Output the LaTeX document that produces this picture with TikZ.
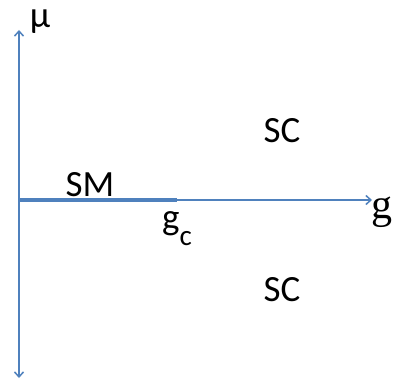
\documentclass[tikz,border=0pt]{standalone}
\usepackage{fontspec}
\setmainfont{Carlito}
\newfontfamily\seriffont{Liberation Serif}
\usetikzlibrary{arrows.meta}
\definecolor{axeblue}{RGB}{79,129,189}
\begin{document}
\begin{tikzpicture}[x=1pt, y=1pt,
        axe/.style={draw=axeblue, line width=1.5pt},
        pointe/.style={-{Straight Barb[length=5pt, width=9pt]}},
        lbl/.style={inner sep=0pt, anchor=base, font=\fontsize{37}{42}\selectfont}]
        \useasboundingbox (0, 0) rectangle (393, 381);

        % Axes
        \coordinate (o) at (19, 181);
        \coordinate (mutop) at (19, 351);
        \coordinate (mubot) at (19, 3);
        \coordinate (gend) at (372, 181);
        \coordinate (gcpt) at (177, 181);
        \draw [axe, pointe] (o) -- (mutop);
        \draw [axe, pointe] (o) -- (mubot);
        \draw [axe, pointe] (o) -- (gend);
        \draw [axe, line width=3.5pt] (o) -- (gcpt);

        % Etiquettes
        \node [lbl] (mu) at (40, 353) {μ};
        \node [lbl, font=\seriffont\fontsize{42}{46}\selectfont] (g) at (382, 163) {g};
        \node [lbl] (sm) at (90, 185) {SM};
        \node [lbl, anchor=base west] (gc) at (162, 152) {g\raisebox{-16pt}{\fontsize{29}{32}\selectfont c}};
        \node [lbl] (sctop) at (282, 239) {SC};
        \node [lbl] (scbot) at (282, 80) {SC};
    \end{tikzpicture}
\end{document}
